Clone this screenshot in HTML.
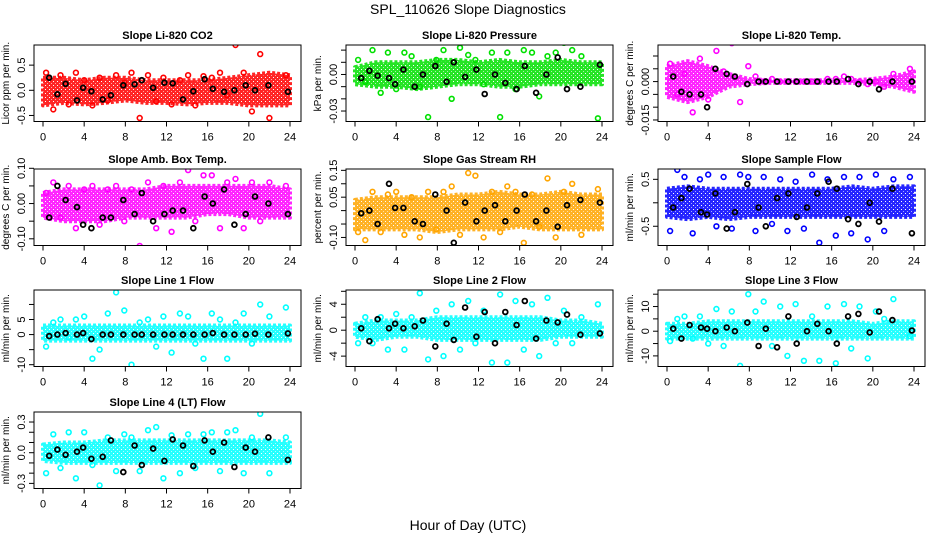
<!DOCTYPE html>
<html><head><meta charset="utf-8"><style>
html,body{margin:0;padding:0;background:#fff;}
svg{display:block;font-family:"Liberation Sans",sans-serif;}
</style></head><body>
<svg id="chart" width="936" height="540" viewBox="0 0 936 540" xmlns="http://www.w3.org/2000/svg">
<text x="468" y="14" text-anchor="middle" font-size="14">SPL_110626  Slope Diagnostics</text>
<text x="468" y="530" text-anchor="middle" font-size="14">Hour of Day (UTC)</text>
</svg>
<script>
// shared hours
const bandHours = [0,2,4,6,8,10,12,14,16,18,20,22,24];
const scatterHours = [0.3,1.0,1.7,2.5,3.2,4.0,4.8,5.5,6.3,7.1,7.9,8.6,9.4,10.2,11.0,11.7,12.5,13.3,14.1,14.8,15.6,16.4,17.2,17.9,18.7,19.5,20.3,21.1,22.0,23.6];
const blackHours = [0.6,1.4,2.2,3.3,3.9,4.7,5.8,6.6,7.8,8.9,9.6,10.7,11.8,12.6,13.6,14.6,15.7,16.5,17.6,18.6,19.7,20.6,21.9,23.8];
const xTicks = [0,4,8,12,16,20,24];

// panel 1: CO2
const co2Lo = [-0.3,-0.25,-0.28,-0.25,-0.2,-0.25,-0.25,-0.28,-0.25,-0.25,-0.3,-0.3,-0.3];
const co2Hi = [0.25,0.25,0.2,0.25,0.25,0.2,0.2,0.2,0.2,0.25,0.3,0.35,0.3];
const co2Pts = [0.35,-0.38,0.3,-0.28,0.35,0.2,-0.3,0.25,-0.2,0.3,0.15,0.35,-0.55,0.3,-0.22,0.25,-0.28,0.2,0.3,-0.3,0.28,0.25,0.35,-0.1,0.9,0.35,-0.42,0.72,-0.55,0.3];
const co2Blk = [0.25,-0.08,0.13,-0.2,0.05,-0.02,-0.18,-0.1,0.1,0.12,0.2,0.05,0.15,0.14,-0.18,-0.02,0.22,0.03,-0.03,0.0,0.1,0.0,0.1,-0.03];
// panel 2: pressure
const prLo = [-0.008,-0.01,-0.01,-0.012,-0.01,-0.008,-0.008,-0.01,-0.01,-0.008,-0.008,-0.008,-0.008];
const prHi = [0.006,0.01,0.01,0.01,0.012,0.012,0.01,0.012,0.01,0.01,0.012,0.01,0.01];
const prPts = [0.012,-0.006,0.02,-0.015,0.018,-0.012,0.018,0.015,-0.01,-0.035,0.012,0.02,-0.02,0.022,0.016,0.012,-0.008,0.018,-0.035,0.018,-0.012,0.02,0.018,-0.018,0.015,0.018,0.026,0.02,0.015,-0.036];
const prBlk = [-0.003,0.003,-0.001,-0.003,-0.008,0.004,-0.01,0.0,0.007,-0.006,0.01,-0.002,0.004,-0.016,0.0,-0.007,-0.012,0.007,-0.015,0.0,0.014,-0.012,-0.01,0.008];
// panel 3: Li-820 temp
const ltLo = [-0.006,-0.008,-0.006,-0.002,-0.001,-0.0005,-0.0005,-0.0005,-0.0005,-0.0005,-0.001,-0.002,-0.004];
const ltHi = [0.006,0.008,0.006,0.003,0.001,0.0005,0.0005,0.0005,0.0005,0.0005,0.001,0.002,0.004];
const ltPts = [0.007,-0.005,0.003,-0.012,0.009,-0.007,0.012,0.004,0.015,-0.008,0.006,0.002,0.0,0.001,0.0,0.0,0.0,0.0,0.0,0.0,0.001,0.001,0.002,0.001,0.0,-0.001,0.0,-0.002,0.003,0.005];
const ltBlk = [0.002,-0.004,-0.005,-0.005,-0.01,0.005,0.003,0.002,-0.001,0.0,0.0,0.0,0.0,0.0,0.0,0.0,0.0,0.0,0.001,-0.001,0.0,-0.003,0.0,0.0];
// panel 4: amb box temp
const abLo = [-0.04,-0.05,-0.05,-0.05,-0.04,-0.04,-0.04,-0.04,-0.03,-0.03,-0.04,-0.04,-0.04];
const abHi = [0.03,0.04,0.04,0.04,0.04,0.04,0.05,0.05,0.05,0.05,0.05,0.05,0.04];
const abPts = [0.03,0.06,-0.04,0.05,-0.07,0.04,0.05,-0.06,0.04,0.05,-0.05,0.04,-0.12,0.06,-0.07,0.05,-0.08,0.06,0.095,-0.05,0.08,0.08,-0.07,0.06,0.07,-0.07,0.06,-0.05,0.06,0.05];
const abBlk = [-0.04,0.05,0.01,-0.01,-0.06,-0.07,-0.04,-0.04,0.01,-0.03,0.03,-0.05,-0.03,-0.02,-0.02,-0.07,0.02,0.0,0.04,-0.06,-0.03,0.02,0.0,-0.03];
// panel 5: gas RH
const rhLo = [-0.07,-0.07,-0.07,-0.07,-0.08,-0.07,-0.07,-0.07,-0.06,-0.07,-0.07,-0.07,-0.07];
const rhHi = [0.04,0.05,0.05,0.05,0.05,0.06,0.06,0.07,0.06,0.06,0.07,0.06,0.06];
const rhPts = [-0.08,-0.11,0.07,-0.08,0.06,0.07,-0.09,0.05,-0.1,0.07,-0.07,0.07,0.09,-0.09,0.14,0.13,-0.1,0.07,-0.08,0.09,0.07,-0.12,0.06,-0.06,0.12,-0.1,0.07,0.1,-0.09,0.08];
const rhBlk = [-0.01,0.0,-0.05,0.1,0.01,0.01,-0.04,-0.05,0.06,0.0,-0.12,0.03,-0.04,0.0,0.02,-0.04,0.0,0.06,-0.04,0.0,-0.06,0.02,0.04,0.03];
// panel 6: sample flow
const sfLo = [-0.3,-0.35,-0.3,-0.35,-0.3,-0.3,-0.3,-0.3,-0.3,-0.3,-0.3,-0.3,-0.3];
const sfHi = [0.3,0.35,0.3,0.3,0.3,0.3,0.3,0.3,0.3,0.35,0.3,0.35,0.35];
const sfPts = [-0.6,0.7,0.55,-0.65,0.5,0.6,-0.5,0.55,-0.55,0.6,0.55,-0.6,0.55,-0.45,0.5,-0.6,0.45,-0.55,0.6,-0.85,0.5,-0.7,0.55,-0.65,0.55,-0.78,0.6,-0.6,0.5,0.55];
const sfBlk = [-0.1,0.1,0.3,-0.2,-0.25,0.2,-0.55,-0.2,0.4,-0.1,-0.5,0.1,0.2,-0.3,-0.1,0.2,0.45,0.3,-0.35,-0.45,0.0,-0.4,0.3,-0.65];
// panel 7: line 1
const l1Lo = [-2,-2,-2,-2,-2,-2,-2,-2,-2,-2,-2,-2,-2];
const l1Hi = [3,3,3,3,3,3,3,3,3,3,3,3,3];
const l1Pts = [-4,4,5,-1,5,6,-8,-5,7,14,8,-10,4,5,-4,6,-6,7,6,-3,-8,7,5,-8,4,7,-3,10,6,9];
const l1Blk = [-0.5,0,0.5,0,0.5,-1.5,0,0,0,0,0,0,0,0,0,0,0,0.5,0,0,0,0.3,0,0.4];
// panel 8: line 2
const l2Lo = [-1,-1.5,-1,-1,-1.5,-1.5,-1.5,-1.5,-1.5,-1.5,-1,-1,-1];
const l2Hi = [1,1.5,1.5,1.5,2,2,2,2,2,2,1.5,1.5,1];
const l2Pts = [-2,2,-2,2,-3,2.5,-3,2,5.7,-4.5,3,-4,4,-3,4.5,-2,3,-5,5.5,-5,4.5,-3,4,-4,5,-2,3,-2,2,4];
const l2Blk = [0.3,-1.7,1.7,0.3,1,0.3,0.6,1.5,-2.5,1,-1.5,3.5,-1,2.8,-2,2.8,0.8,4.5,-1.3,1.5,1.2,2.4,-0.7,-0.5];
// panel 9: line 3
const l3Lo = [-3,-3,-3,-3,-3,-3,-3,-3,-3,-3,-3,-3,-3];
const l3Hi = [3,3,4,4,4,4,4,4,4,4,3,4,4];
const l3Pts = [-4,5,6,-3,6,-5,9,-6,8,-14,15,8,12,-6,10,-10,11,-12,6,-12,10,-13,11,-7,10,-11,8,5,13,-2];
const l3Blk = [1,-3,2.5,1.5,1,0,1.5,0,3.5,-6,1,-6.5,6,-5,0,3,0,-5,6,7,-0.5,8,4.5,0.3];
// panel 10: line 4
const l4Lo = [-0.08,-0.1,-0.1,-0.1,-0.1,-0.1,-0.1,-0.1,-0.1,-0.1,-0.1,-0.1,-0.1];
const l4Hi = [0.08,0.1,0.1,0.12,0.12,0.12,0.12,0.12,0.12,0.12,0.12,0.12,0.1];
const l4Pts = [-0.2,0.18,-0.15,0.2,-0.25,0.2,-0.12,-0.32,0.15,-0.18,0.18,0.15,-0.18,0.22,0.25,-0.25,0.17,-0.2,0.18,-0.15,0.18,0.2,-0.18,0.2,0.22,-0.2,0.15,0.38,-0.2,0.15];
const l4Blk = [-0.03,0.03,-0.02,0.01,0.05,-0.06,-0.04,0.12,-0.19,0.07,-0.12,0.04,-0.08,0.13,0.07,-0.13,0.12,0.01,0.1,-0.14,0.05,0.01,0.15,-0.07];

const yTicks1 = [-0.5,0,0.5], yLab1 = ["-0.5","0.0","0.5"];
const yTicks2 = [-0.03,-0.02,-0.01,0,0.01,0.02], yLab2 = ["-0.03","","","0.00","",""];
const yTicks3 = [-0.015,-0.01,-0.005,0,0.005,0.01], yLab3 = ["-0.015","","","0.000","",""];
const yTicks4 = [-0.1,-0.05,0,0.05,0.1], yLab4 = ["-0.10","","0.00","","0.10"];
const yTicks5 = [-0.1,-0.05,0,0.05,0.1,0.15], yLab5 = ["-0.10","","","0.05","","0.15"];
const yTicks6 = [-0.5,0,0.5], yLab6 = ["-0.5","","0.5"];
const yTicks7 = [-10,-5,0,5,10], yLab7 = ["-10","","0","5",""];
const yTicks8 = [-4,-2,0,2,4,6], yLab8 = ["-4","","0","","4",""];
const yTicks9 = [-10,-5,0,5,10,15], yLab9 = ["-10","","0","","10",""];
const yTicks10 = [-0.3,-0.2,-0.1,0,0.1,0.2,0.3], yLab10 = ["-0.3","","","0.0","","","0.3"];

const panels = [
 {name:"co2",title:"Slope Li-820 CO2",yl:"Licor ppm per min.",col:0,row:0,dom:[-0.62,0.9],lo:co2Lo,hi:co2Hi,pts:co2Pts,blk:co2Blk,c:"#ff0000",t:yTicks1,l:yLab1},
 {name:"pressure",title:"Slope Li-820 Pressure",yl:"kPa per min.",col:1,row:0,dom:[-0.0386,0.0242],lo:prLo,hi:prHi,pts:prPts,blk:prBlk,c:"#00e000",t:yTicks2,l:yLab2},
 {name:"li820-temp",title:"Slope Li-820 Temp.",yl:"degrees C per min.",col:2,row:0,dom:[-0.0156,0.0143],lo:ltLo,hi:ltHi,pts:ltPts,blk:ltBlk,c:"#ff00ff",t:yTicks3,l:yLab3},
 {name:"amb-box-temp",title:"Slope Amb. Box Temp.",yl:"degrees C per min.",col:0,row:1,dom:[-0.119,0.098],lo:abLo,hi:abHi,pts:abPts,blk:abBlk,c:"#ff00ff",t:yTicks4,l:yLab4},
 {name:"gas-stream-rh",title:"Slope Gas Stream RH",yl:"percent per min.",col:1,row:1,dom:[-0.13,0.155],lo:rhLo,hi:rhHi,pts:rhPts,blk:rhBlk,c:"#ffa500",t:yTicks5,l:yLab5},
 {name:"sample-flow",title:"Slope Sample Flow",yl:"ml/min per min.",col:2,row:1,dom:[-0.91,0.72],lo:sfLo,hi:sfHi,pts:sfPts,blk:sfBlk,c:"#0000ff",t:yTicks6,l:yLab6},
 {name:"line1-flow",title:"Slope Line 1 Flow",yl:"ml/min per min.",col:0,row:2,dom:[-10.6,14.8],lo:l1Lo,hi:l1Hi,pts:l1Pts,blk:l1Blk,c:"#00ffff",t:yTicks7,l:yLab7},
 {name:"line2-flow",title:"Slope Line 2 Flow",yl:"ml/min per min.",col:1,row:2,dom:[-5.6,6.2],lo:l2Lo,hi:l2Hi,pts:l2Pts,blk:l2Blk,c:"#00ffff",t:yTicks8,l:yLab8},
 {name:"line3-flow",title:"Slope Line 3 Flow",yl:"ml/min per min.",col:2,row:2,dom:[-14.3,16.7],lo:l3Lo,hi:l3Hi,pts:l3Pts,blk:l3Blk,c:"#00ffff",t:yTicks9,l:yLab9},
 {name:"line4-flow",title:"Slope Line 4 (LT) Flow",yl:"ml/min per min.",col:0,row:3,dom:[-0.35,0.398],lo:l4Lo,hi:l4Hi,pts:l4Pts,blk:l4Blk,c:"#00ffff",t:yTicks10,l:yLab10}
];

const NS = "http://www.w3.org/2000/svg";
const svg = document.getElementById('chart');
const boxTops = [45,169,290,412], boxH = 76.5;
const colX = [34,346,658], boxW = 267;

function mk(tag, attrs, parent){
  const e = document.createElementNS(NS, tag);
  for (const k in attrs) e.setAttribute(k, attrs[k]);
  parent.appendChild(e);
  return e;
}

const defs = mk('defs', {}, svg);

panels.forEach(p => {
  const L = colX[p.col], T = boxTops[p.row], B = T + boxH, R = L + boxW;
  const xs = h => L + 9 + h * (247/24);
  const ys = v => B - (v - p.dom[0]) / (p.dom[1] - p.dom[0]) * boxH;
  const g = mk('g', {}, svg);
  
  

  const pat = mk('pattern', {id:'pat-' + p.name, width:4, height:4, patternUnits:'userSpaceOnUse'}, defs);
  mk('rect', {x:0, y:0, width:4, height:4, fill:p.c}, pat);
  mk('rect', {x:1, y:1, width:1, height:1, fill:'#fff'}, pat);
  mk('rect', {x:3, y:3, width:1, height:1, fill:'#fff', opacity:0.6}, pat);

  const cp = mk('clipPath', {id:'clip-' + p.name}, g);
  mk('rect', {x:L, y:T, width:boxW, height:boxH}, cp);
  const plot = mk('g', {'clip-path':'url(#clip-' + p.name + ')'}, g);
  
  

  let d = '';
  bandHours.forEach((h, i) => { d += (i ? 'L' : 'M') + xs(h).toFixed(1) + ',' + ys(p.hi[i]).toFixed(1); });
  for (let i = bandHours.length - 1; i >= 0; i--) d += 'L' + xs(bandHours[i]).toFixed(1) + ',' + ys(p.lo[i]).toFixed(1);
  d += 'Z';
  const band = mk('path', {d:d, fill:'url(#pat-' + p.name + ')', stroke:p.c, 'stroke-width':4, 'stroke-linejoin':'round', 'stroke-dasharray':'3 2', opacity:0.85}, plot);
  
  

  p.pts.forEach((v, i) => {
    const c = mk('circle', {cx:xs(scatterHours[i]).toFixed(1), cy:ys(v).toFixed(1), r:2.4, fill:'none', stroke:p.c, 'stroke-width':1.6}, plot);
    
    
  });
  p.blk.forEach((v, i) => {
    const c = mk('circle', {cx:xs(blackHours[i]).toFixed(1), cy:ys(v).toFixed(1), r:2.4, fill:'none', stroke:'#000', 'stroke-width':1.8}, plot);
    
    
  });

  const box = mk('rect', {x:L, y:T, width:boxW, height:boxH, fill:'none', stroke:'#000', 'stroke-width':1}, g);
  
  

  const tt = mk('text', {x:L + boxW/2, y:T - 6, 'text-anchor':'middle', 'font-size':11, 'font-weight':'bold'}, g);
  tt.textContent = p.title;
  
  

  xTicks.forEach(h => {
    const x = xs(h);
    const tk = mk('line', {x1:x, x2:x, y1:B, y2:B + 5, stroke:'#000'}, g);
    
    
    const lb = mk('text', {x:x, y:B + 19, 'text-anchor':'middle', 'font-size':11}, g);
    lb.textContent = h;
    
    
  });
  const xl = mk('line', {x1:xs(0), x2:xs(24), y1:B, y2:B, stroke:'#000'}, g);
  
  

  p.t.forEach((v, i) => {
    const y = ys(v);
    const tk = mk('line', {x1:L - 5, x2:L, y1:y, y2:y, stroke:'#000'}, g);
    
    
    if (p.l[i]) {
      const lb = mk('text', {x:L - 9, y:y, 'text-anchor':'middle', 'font-size':11, transform:'rotate(-90 ' + (L - 9) + ' ' + y + ')'}, g);
      lb.textContent = p.l[i];
      
      
    }
  });
  const yx = L - 25, yy = T + boxH/2;
  const yt = mk('text', {x:yx, y:yy, 'text-anchor':'middle', 'font-size':10, transform:'rotate(-90 ' + yx + ' ' + yy + ')'}, g);
  yt.textContent = p.yl;
  
  
});
</script>
</body></html>
